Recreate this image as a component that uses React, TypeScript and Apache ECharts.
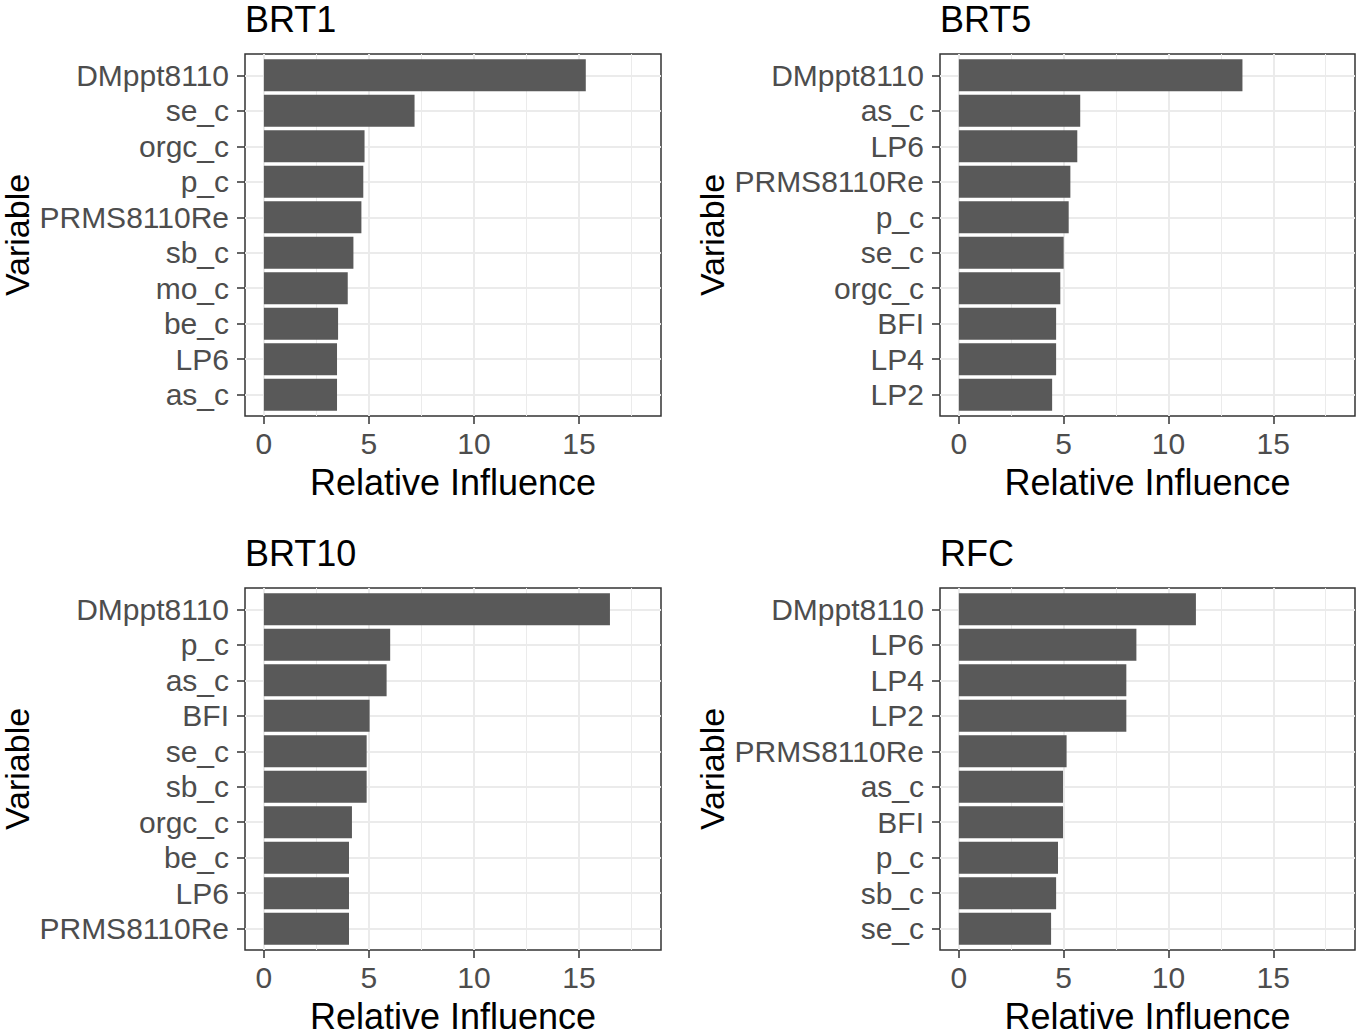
import React, { useEffect, useRef } from "react";
import * as echarts from "echarts";

const panelTitles = ["BRT1", "BRT5", "BRT10", "RFC"];

const brt1Vars = ["DMppt8110", "se_c", "orgc_c", "p_c", "PRMS8110Re", "sb_c", "mo_c", "be_c", "LP6", "as_c"];
const brt1Vals = [15.32, 7.17, 4.79, 4.73, 4.64, 4.26, 3.99, 3.53, 3.48, 3.48];

const brt5Vars = ["DMppt8110", "as_c", "LP6", "PRMS8110Re", "p_c", "se_c", "orgc_c", "BFI", "LP4", "LP2"];
const brt5Vals = [13.53, 5.79, 5.65, 5.32, 5.24, 5.0, 4.84, 4.64, 4.64, 4.45];

const brt10Vars = ["DMppt8110", "p_c", "as_c", "BFI", "se_c", "sb_c", "orgc_c", "be_c", "LP6", "PRMS8110Re"];
const brt10Vals = [16.47, 6.01, 5.84, 5.03, 4.89, 4.89, 4.19, 4.05, 4.05, 4.05];

const rfcVars = ["DMppt8110", "LP6", "LP4", "LP2", "PRMS8110Re", "as_c", "BFI", "p_c", "sb_c", "se_c"];
const rfcVals = [11.31, 8.47, 7.99, 7.99, 5.14, 4.97, 4.97, 4.73, 4.64, 4.4];

const xMajorTicks = [0, 5, 10, 15];
const xMinorTicks = [2.5, 7.5, 12.5, 17.5];
const xTitle = "Relative Influence";
const yTitle = "Variable";

const FONT = "'Liberation Sans', Arial, Helvetica, sans-serif";

export default function App() {
  const ref = useRef<HTMLDivElement>(null);
  useEffect(() => {
    if (!ref.current) return;
    const chart = echarts.init(ref.current, null, { renderer: "svg" });
    const panels = [
      { vars: brt1Vars, vals: brt1Vals, left: 245, top: 54, width: 416 },
      { vars: brt5Vars, vals: brt5Vals, left: 940, top: 54, width: 415 },
      { vars: brt10Vars, vals: brt10Vals, left: 245, top: 588, width: 416 },
      { vars: rfcVars, vals: rfcVals, left: 940, top: 588, width: 415 },
    ];
    const H = 362;
    const grid: any[] = [];
    const xAxis: any[] = [];
    const yAxis: any[] = [];
    const series: any[] = [];
    const graphic: any[] = [];
    panels.forEach((p, i) => {
      grid.push({
        left: p.left,
        top: p.top,
        width: p.width,
        height: H,
        show: true,
        borderColor: "#333333",
        borderWidth: 1.5,
        backgroundColor: "#ffffff",
        containLabel: false,
      });
      xAxis.push({
        type: "value",
        gridIndex: i,
        position: "bottom",
        min: -0.9,
        max: 18.9,
        axisLine: { show: false, onZero: false },
        axisTick: { show: true, customValues: xMajorTicks, length: 8, lineStyle: { color: "#333333", width: 1.5 } },
        axisLabel: {
          show: true,
          customValues: xMajorTicks,
          color: "#4D4D4D",
          fontSize: 30,
          fontFamily: FONT,
          margin: 27,
          verticalAlign: "middle",
        },
        splitLine: { show: true, lineStyle: { color: "#EBEBEB", width: 2 } },
      });
      xAxis.push({
        type: "value",
        gridIndex: i,
        position: "bottom",
        min: -0.9,
        max: 18.9,
        axisLine: { show: false, onZero: false },
        axisTick: { show: false, customValues: xMinorTicks },
        axisLabel: { show: false, customValues: xMinorTicks },
        splitLine: { show: true, lineStyle: { color: "#EBEBEB", width: 1 } },
      });
      const names = p.vars;
      yAxis.push({
        type: "value",
        gridIndex: i,
        position: "left",
        inverse: true,
        min: -0.6,
        max: names.length - 1 + 0.6,
        axisLine: { show: false, onZero: false },
        axisTick: {
          show: true,
          customValues: names.map((_, k) => k),
          length: 8,
          lineStyle: { color: "#333333", width: 1.5 },
        },
        axisLabel: {
          show: true,
          customValues: names.map((_, k) => k),
          formatter: (v: number) => names[Math.round(v)] ?? "",
          color: "#4D4D4D",
          fontSize: 30,
          fontFamily: FONT,
          margin: 16,
        },
        splitLine: { show: true, lineStyle: { color: "#EBEBEB", width: 2 } },
      });
      series.push({
        type: "custom",
        xAxisIndex: i * 2,
        yAxisIndex: i,
        encode: { x: 0, y: 1 },
        data: p.vals.map((v, k) => [v, k]),
        renderItem: (params: any, api: any) => {
          const v = api.value(0);
          const pos = api.value(1);
          const s = api.coord([0, pos]);
          const e = api.coord([v, pos]);
          const h = api.size([0, 0.9])[1];
          return {
            type: "rect",
            shape: { x: s[0], y: s[1] - h / 2, width: e[0] - s[0], height: h },
            style: { fill: "#595959" },
          };
        },
        z: 5,
      });
      const cx = p.left + p.width / 2;
      graphic.push({
        type: "text",
        x: p.left,
        y: p.top - 35,
        style: { text: panelTitles[i], fill: "#000", font: `36px ${FONT}`, align: "left", verticalAlign: "middle" },
      });
      graphic.push({
        type: "text",
        x: cx,
        y: p.top + H + 66,
        style: { text: xTitle, fill: "#000", font: `36px ${FONT}`, align: "center", verticalAlign: "middle" },
      });
      graphic.push({
        type: "text",
        x: p.left - 228,
        y: p.top + H / 2,
        rotation: Math.PI / 2,
        style: { text: yTitle, fill: "#000", font: `34px ${FONT}`, align: "center", verticalAlign: "middle" },
      });
    });
    chart.setOption({
      animation: false,
      backgroundColor: "#ffffff",
      grid,
      xAxis,
      yAxis,
      series,
      graphic,
    });
    return () => chart.dispose();
  }, []);
  return (
    <div
      ref={ref}
      style={{ position: "fixed", left: 0, top: 0, width: 1357, height: 1030, background: "#fff" }}
    />
  );
}
